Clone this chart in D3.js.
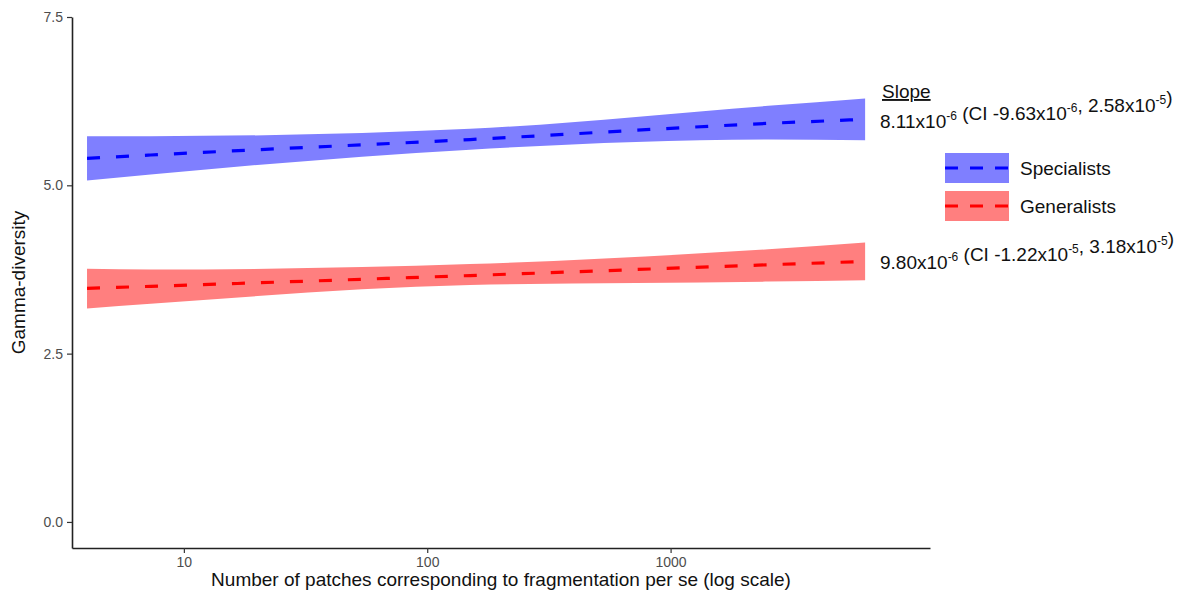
<!DOCTYPE html>
<html>
<head>
<meta charset="utf-8">
<script src="https://cdn.jsdelivr.net/npm/d3@7"></script>
<style>
  body { margin: 0; background: #fff; }
  text { font-family: "Liberation Sans", Arial, sans-serif; }
</style>
</head>
<body>
<svg id="chart" width="1183" height="598"></svg>
<script>
// values
const patches = [4, 7.3, 150, 2520, 6300];
const specFit = [5.40, 5.45, 5.68, 5.92, 5.98];
const specLo  = [5.07, 5.16, 5.53, 5.68, 5.67];
const specHi  = [5.73, 5.73, 5.84, 6.18, 6.29];
const genFit  = [3.47, 3.50, 3.66, 3.82, 3.87];
const genLo   = [3.17, 3.24, 3.52, 3.57, 3.59];
const genHi   = [3.76, 3.75, 3.83, 4.05, 4.15];
const xTicks = [10, 100, 1000];
const yTicks = [0, 2.5, 5, 7.5];
const groups = ["Specialists", "Generalists"];

const svg = d3.select('#chart');
const plotL = 72, plotR = 930, plotT = 17, plotB = 548;

const x = d3.scaleLog().domain([3.47, 11640]).range([plotL, plotR]);
const y = d3.scaleLinear().domain([-0.387, 7.5]).range([plotB, plotT]);

const series = [
  { name: groups[0], fit: specFit, lo: specLo, hi: specHi, line: "#0000ff", band: "#7f7fff" },
  { name: groups[1], fit: genFit, lo: genLo, hi: genHi, line: "#ff0000", band: "#ff7f7f" }
];

const area = d3.area()
  .x(d => x(d.x)).y0(d => y(d.lo)).y1(d => y(d.hi))
  .curve(d3.curveMonotoneX);
const line = d3.line()
  .x(d => x(d.x)).y(d => y(d.fit))
  .curve(d3.curveMonotoneX);

series.forEach(s => {
  const pts = patches.map((p, i) => ({ x: p, fit: s.fit[i], lo: s.lo[i], hi: s.hi[i] }));
  svg.append('path').attr('d', area(pts)).attr('fill', s.band);
  svg.append('path').attr('d', line(pts))
    .attr('fill', 'none').attr('stroke', s.line)
    .attr('stroke-width', 3.2).attr('stroke-dasharray', '13,16');
});

// axes
const xAxis = svg.append('g').attr('transform', `translate(0,${plotB})`)
  .call(d3.axisBottom(x).tickValues(xTicks).tickFormat(d3.format('d'))
    .tickSize(5).tickPadding(4).tickSizeOuter(0));
const yAxis = svg.append('g').attr('transform', `translate(${plotL},0)`)
  .call(d3.axisLeft(y).tickValues(yTicks).tickFormat(d3.format('.1f'))
    .tickSize(5).tickPadding(4).tickSizeOuter(0));
[xAxis, yAxis].forEach(a => {
  a.attr('font-size', null).attr('font-family', null);
  a.select('.domain').attr('stroke', '#222').attr('stroke-width', 1.6);
  a.selectAll('.tick line').attr('stroke', '#333').attr('stroke-width', 1.2);
  a.selectAll('.tick text').attr('fill', '#4d4d4d').style('font-size', '14px');
});

svg.append('text').attr('x', (plotL + plotR) / 2).attr('y', 586)
  .attr('text-anchor', 'middle').style('font-size', '19px').attr('fill', '#111')
  .text('Number of patches corresponding to fragmentation per se (log scale)');
svg.append('text').attr('transform', `translate(25,${(plotT + plotB) / 2}) rotate(-90)`)
  .attr('text-anchor', 'middle').style('font-size', '19px').attr('fill', '#111')
  .text('Gamma-diversity');

// slope annotations
svg.append('text').attr('x', 882).attr('y', 98).style('font-size', '19px')
  .attr('fill', '#111').attr('text-decoration', 'underline').text('Slope');

function slopeLabel(yy, parts) {
  const t = svg.append('text').attr('x', 880).attr('y', yy)
    .style('font-size', '19px').attr('fill', '#111');
  parts.forEach(p => {
    if (p.sup) {
      t.append('tspan').attr('dy', -8).style('font-size', '12px').text(p.sup);
      t.append('tspan').attr('dy', 8).text('');
    } else {
      t.append('tspan').text(p.t);
    }
  });
}
slopeLabel(128, [{ t: '8.11x10' }, { sup: '-6' }, { t: ' (CI -9.63x10' }, { sup: '-6' },
  { t: ', 2.58x10' }, { sup: '-5' }, { t: ')' }]);
slopeLabel(269, [{ t: '9.80x10' }, { sup: '-6' }, { t: ' (CI -1.22x10' }, { sup: '-5' },
  { t: ', 3.18x10' }, { sup: '-5' }, { t: ')' }]);

// legend
const legend = svg.append('g').attr('transform', 'translate(945,153)');
series.forEach((s, i) => {
  const g = legend.append('g').attr('transform', `translate(0,${i * 38})`);
  g.append('rect').attr('width', 64).attr('height', 30).attr('fill', s.band);
  g.append('line').attr('x1', 0).attr('x2', 64).attr('y1', 15).attr('y2', 15)
    .attr('stroke', s.line).attr('stroke-width', 3).attr('stroke-dasharray', '13,12');
  g.append('text').attr('x', 75).attr('y', 22).style('font-size', '19px')
    .attr('fill', '#111').text(s.name);
});
</script>
</body>
</html>
